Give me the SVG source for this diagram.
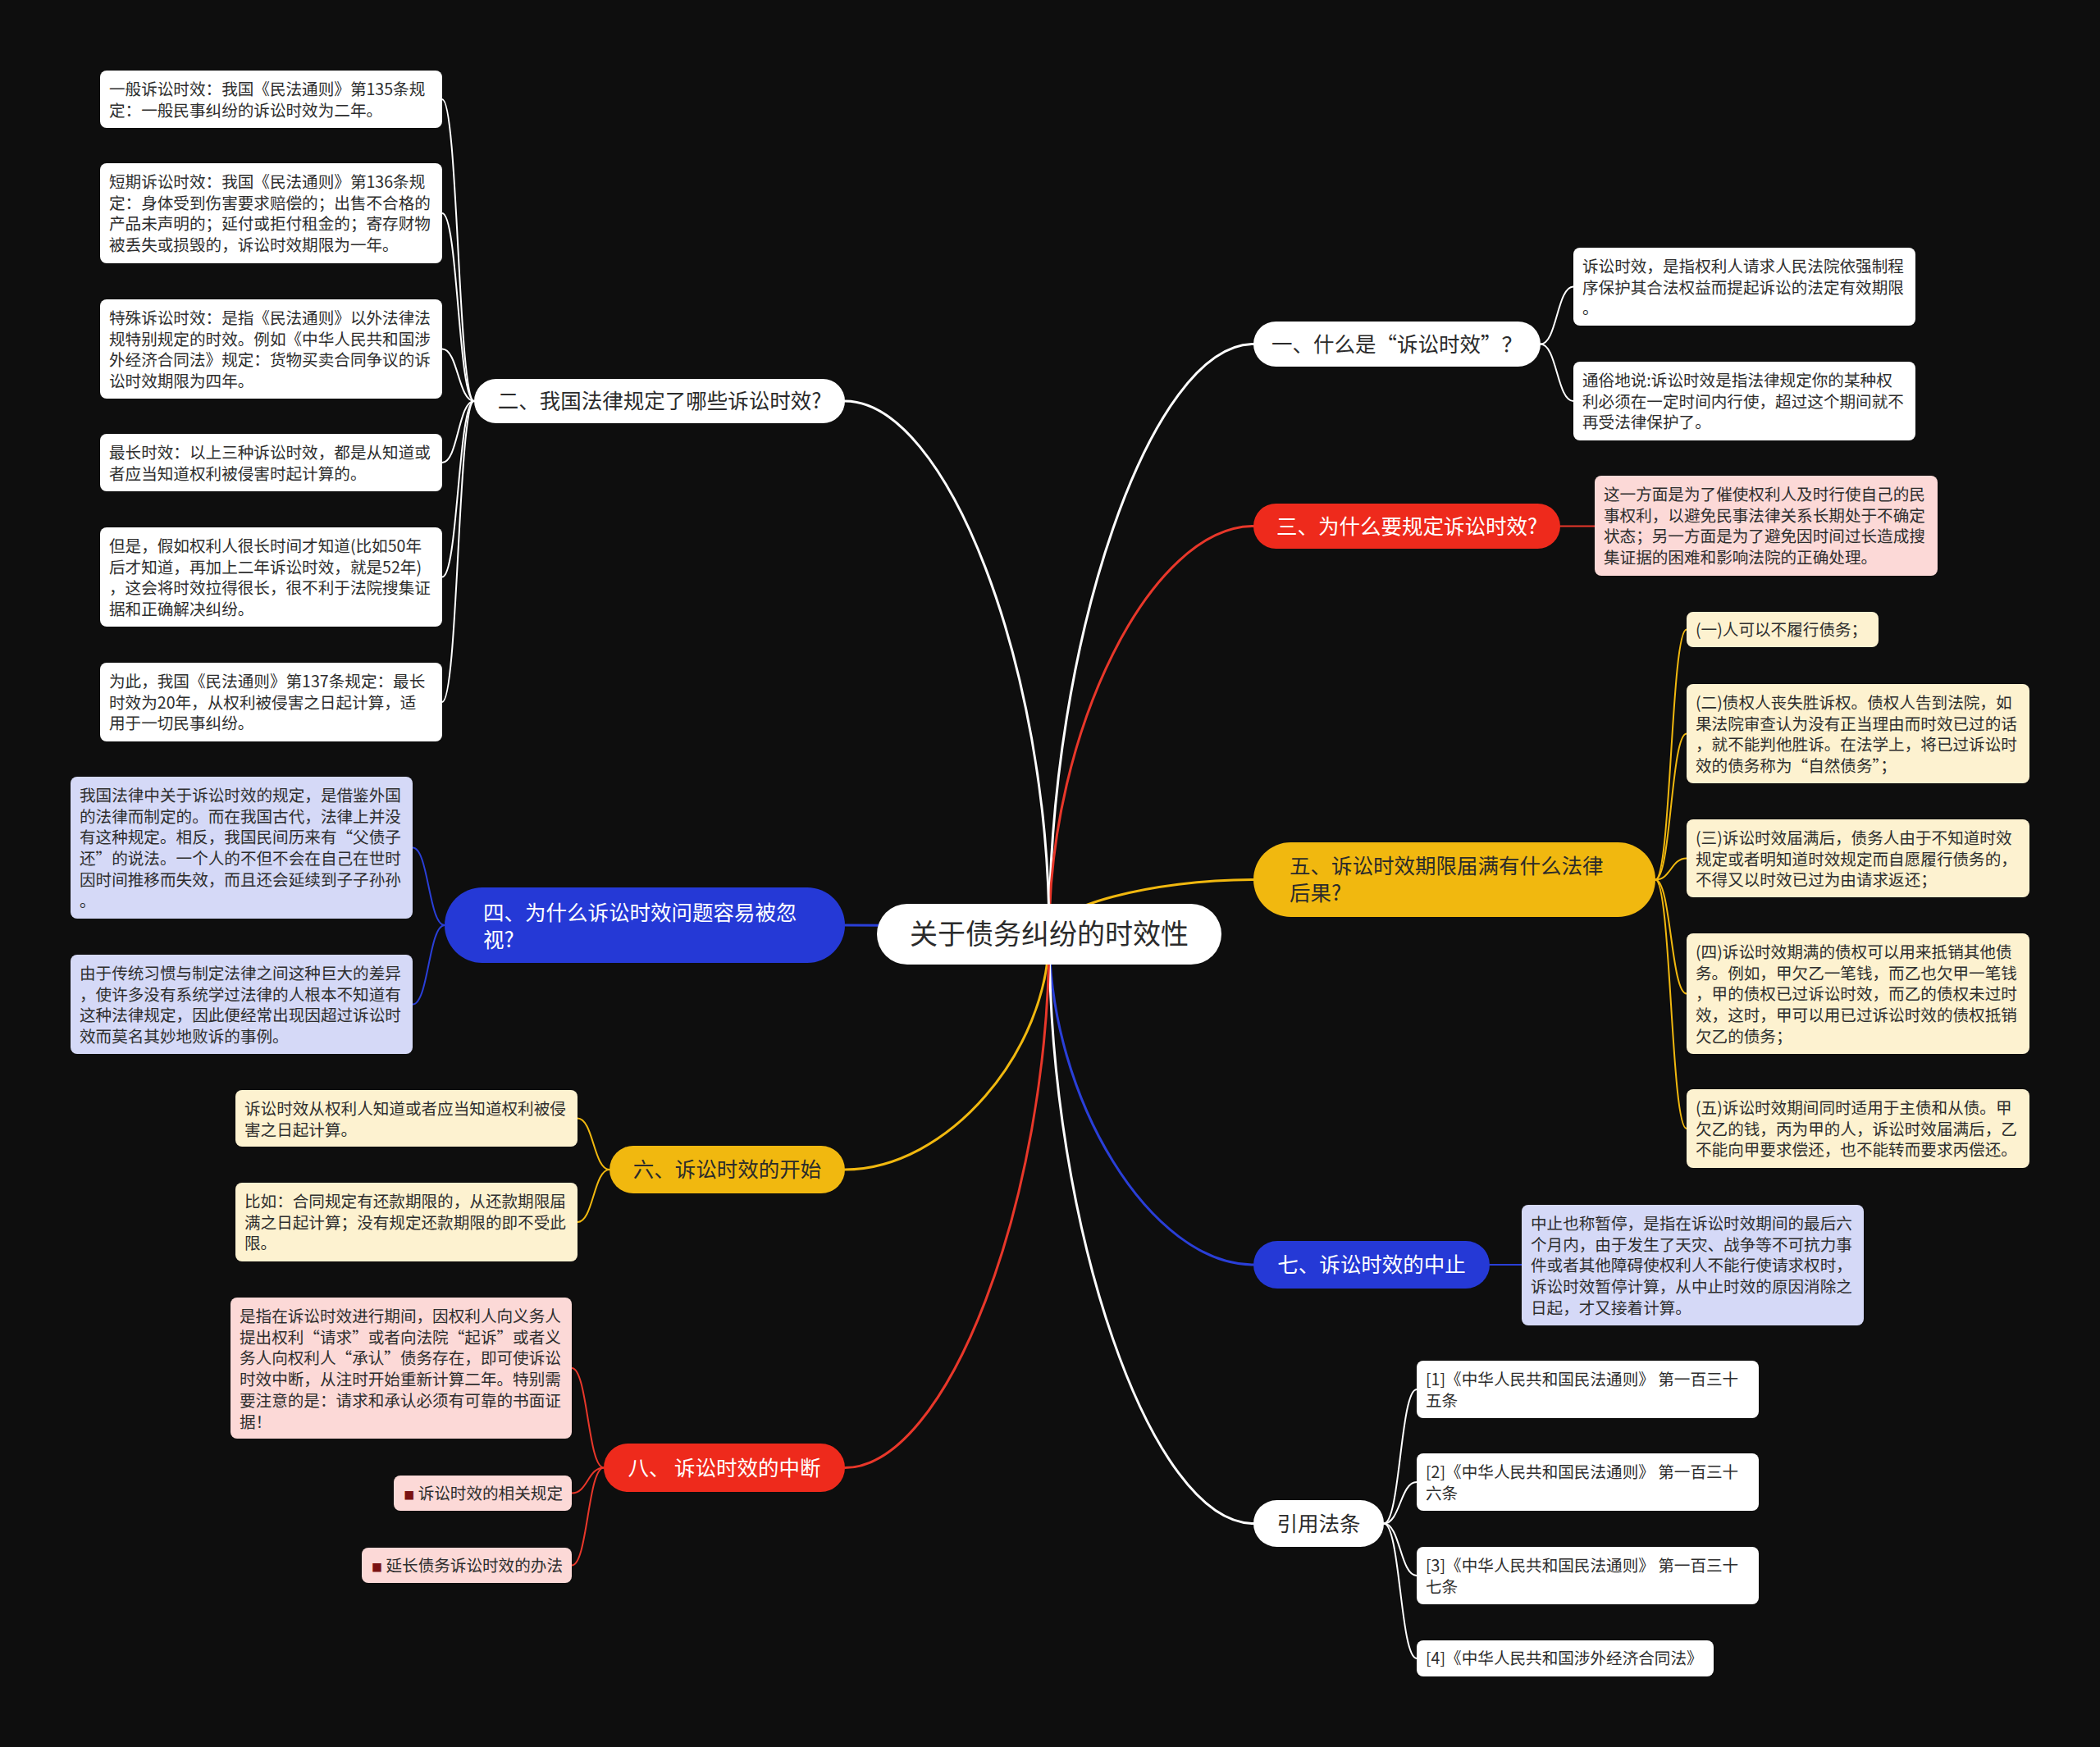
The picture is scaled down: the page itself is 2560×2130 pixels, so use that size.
<svg xmlns="http://www.w3.org/2000/svg" width="2560" height="2130" viewBox="0 0 2560 2130">
<defs>
<style>
text{font-family:"Noto Sans CJK SC","Noto Sans",sans-serif;}
.bg{fill:#0e0e0e;}
.c{fill:none;stroke-linecap:round;}
.main{stroke-width:3;}
.sub{stroke-width:2;}
.sw{stroke:#ffffff;}
.sr{stroke:#e8372a;}
.sy{stroke:#f1b80f;}
.sb{stroke:#2a3fd8;}
.fw{fill:#ffffff;}
.fr{fill:#ee2a1c;}
.fy{fill:#f1b80f;}
.fb{fill:#2539d6;}
.fc{fill:#fdf2d0;}
.fp{fill:#fcd9d7;}
.fl{fill:#d5d9f7;}
.bt{font-size:25.5px;}
.dark{fill:#2b2b2b;}
.light{fill:#ffffff;}
.lt{font-size:19.6px;fill:#2e2e2e;}
.rt{font-size:34px;fill:#2b2b2b;}
.mk{fill:#7a1212;}
</style>
</defs>
<rect class="bg" x="0" y="0" width="2560" height="2130"/>

<g id="connectors">
<path class="c main sw" d="M1279 1139 C1279 779.5 1403.5 419.5 1528 419.5"/>
<path class="c main sr" d="M1279 1139 C1279 890.5 1403.5 641.5 1528 641.5"/>
<path class="c main sy" d="M1279 1139 C1279 1105.5 1403.5 1072.5 1528 1072.5"/>
<path class="c main sb" d="M1279 1139 C1279 1340.5 1403.5 1542 1528 1542"/>
<path class="c main sw" d="M1279 1139 C1279 1498 1403.5 1857.5 1528 1857.5"/>
<path class="c main sw" d="M1279 1139 C1279 814 1154.5 489 1030 489"/>
<path class="c main sb" d="M1279 1139 C1279 1133.5 1154.5 1128 1030 1128"/>
<path class="c main sy" d="M1279 1139 C1279 1282.5 1154.5 1426 1030 1426"/>
<path class="c main sr" d="M1279 1139 C1279 1464 1154.5 1789.5 1030 1789.5"/>

<path class="c sub sw" d="M578 489 C558.5 489 558.5 121 539 121"/>
<path class="c sub sw" d="M578 489 C558.5 489 558.5 260 539 260"/>
<path class="c sub sw" d="M578 489 C558.5 489 558.5 425.5 539 425.5"/>
<path class="c sub sw" d="M578 489 C558.5 489 558.5 564 539 564"/>
<path class="c sub sw" d="M578 489 C558.5 489 558.5 703.5 539 703.5"/>
<path class="c sub sw" d="M578 489 C558.5 489 558.5 856 539 856"/>

<path class="c sub sw" d="M1878 419.5 C1898 419.5 1898 349.5 1918 349.5"/>
<path class="c sub sw" d="M1878 419.5 C1898 419.5 1898 489 1918 489"/>

<path class="c sub sr" d="M1902 641.5 L1944 641.5"/>

<path class="c sub sb" d="M542 1128 C522.5 1128 522.5 1033.5 503 1033.5"/>
<path class="c sub sb" d="M542 1128 C522.5 1128 522.5 1224.5 503 1224.5"/>

<path class="c sub sy" d="M2018 1072.5 C2037 1072.5 2037 767.5 2056 767.5"/>
<path class="c sub sy" d="M2018 1072.5 C2037 1072.5 2037 894.5 2056 894.5"/>
<path class="c sub sy" d="M2018 1072.5 C2037 1072.5 2037 1046.5 2056 1046.5"/>
<path class="c sub sy" d="M2018 1072.5 C2037 1072.5 2037 1211.5 2056 1211.5"/>
<path class="c sub sy" d="M2018 1072.5 C2037 1072.5 2037 1376 2056 1376"/>

<path class="c sub sy" d="M743 1426 C723.5 1426 723.5 1363.5 704 1363.5"/>
<path class="c sub sy" d="M743 1426 C723.5 1426 723.5 1490 704 1490"/>

<path class="c sub sb" d="M1816 1542 L1855 1542"/>

<path class="c sub sr" d="M736 1789.5 C716.5 1789.5 716.5 1668 697 1668"/>
<path class="c sub sr" d="M736 1789.5 C716.5 1789.5 716.5 1820.5 697 1820.5"/>
<path class="c sub sr" d="M736 1789.5 C716.5 1789.5 716.5 1908.5 697 1908.5"/>

<path class="c sub sw" d="M1687 1857.5 C1707 1857.5 1707 1694 1727 1694"/>
<path class="c sub sw" d="M1687 1857.5 C1707 1857.5 1707 1807 1727 1807"/>
<path class="c sub sw" d="M1687 1857.5 C1707 1857.5 1707 1921 1727 1921"/>
<path class="c sub sw" d="M1687 1857.5 C1707 1857.5 1707 2022 1727 2022"/>
</g>

<g id="root">
<rect class="fw" x="1069" y="1102" width="420" height="74" rx="37"/>
<text class="rt" x="1279" y="1151" text-anchor="middle">关于债务纠纷的时效性</text>
</g>

<g id="b1">
<rect class="fw" x="1528" y="392" width="350" height="55" rx="27.5"/>
<text class="bt dark" x="1703" y="428.5" text-anchor="middle">一、什么是“诉讼时效”？</text>
</g>
<g id="b1-1">
<rect class="fw" x="1918" y="302" width="417" height="95" rx="8"/>
<text class="lt" x="1929" y="332"><tspan x="1929">诉讼时效，是指权利人请求人民法院依强制程</tspan><tspan x="1929" dy="25.7">序保护其合法权益而提起诉讼的法定有效期限</tspan><tspan x="1929" dy="25.7">。</tspan></text>
</g>
<g id="b1-2">
<rect class="fw" x="1918" y="441" width="417" height="96" rx="8"/>
<text class="lt" x="1929" y="471"><tspan x="1929">通俗地说:诉讼时效是指法律规定你的某种权</tspan><tspan x="1929" dy="25.7">利必须在一定时间内行使，超过这个期间就不</tspan><tspan x="1929" dy="25.7">再受法律保护了。</tspan></text>
</g>

<g id="b2">
<rect class="fw" x="578" y="462" width="452" height="54" rx="27"/>
<text class="bt dark" x="804" y="498" text-anchor="middle">二、我国法律规定了哪些诉讼时效?</text>
</g>
<g id="b2-1">
<rect class="fw" x="122" y="86" width="417" height="70" rx="8"/>
<text class="lt" x="133" y="116"><tspan x="133">一般诉讼时效：我国《民法通则》第135条规</tspan><tspan x="133" dy="25.7">定：一般民事纠纷的诉讼时效为二年。</tspan></text>
</g>
<g id="b2-2">
<rect class="fw" x="122" y="199" width="417" height="122" rx="8"/>
<text class="lt" x="133" y="229"><tspan x="133">短期诉讼时效：我国《民法通则》第136条规</tspan><tspan x="133" dy="25.7">定：身体受到伤害要求赔偿的；出售不合格的</tspan><tspan x="133" dy="25.7">产品未声明的；延付或拒付租金的；寄存财物</tspan><tspan x="133" dy="25.7">被丢失或损毁的，诉讼时效期限为一年。</tspan></text>
</g>
<g id="b2-3">
<rect class="fw" x="122" y="365" width="417" height="121" rx="8"/>
<text class="lt" x="133" y="395"><tspan x="133">特殊诉讼时效：是指《民法通则》以外法律法</tspan><tspan x="133" dy="25.7">规特别规定的时效。例如《中华人民共和国涉</tspan><tspan x="133" dy="25.7">外经济合同法》规定：货物买卖合同争议的诉</tspan><tspan x="133" dy="25.7">讼时效期限为四年。</tspan></text>
</g>
<g id="b2-4">
<rect class="fw" x="122" y="529" width="417" height="70" rx="8"/>
<text class="lt" x="133" y="559"><tspan x="133">最长时效：以上三种诉讼时效，都是从知道或</tspan><tspan x="133" dy="25.7">者应当知道权利被侵害时起计算的。</tspan></text>
</g>
<g id="b2-5">
<rect class="fw" x="122" y="643" width="417" height="121" rx="8"/>
<text class="lt" x="133" y="673"><tspan x="133">但是，假如权利人很长时间才知道(比如50年</tspan><tspan x="133" dy="25.7">后才知道，再加上二年诉讼时效，就是52年)</tspan><tspan x="133" dy="25.7">，这会将时效拉得很长，很不利于法院搜集证</tspan><tspan x="133" dy="25.7">据和正确解决纠纷。</tspan></text>
</g>
<g id="b2-6">
<rect class="fw" x="122" y="808" width="417" height="96" rx="8"/>
<text class="lt" x="133" y="838"><tspan x="133">为此，我国《民法通则》第137条规定：最长</tspan><tspan x="133" dy="25.7">时效为20年，从权利被侵害之日起计算，适</tspan><tspan x="133" dy="25.7">用于一切民事纠纷。</tspan></text>
</g>

<g id="b3">
<rect class="fr" x="1528" y="614" width="374" height="55" rx="27.5"/>
<text class="bt light" x="1715" y="650.5" text-anchor="middle">三、为什么要规定诉讼时效?</text>
</g>
<g id="b3-1">
<rect class="fp" x="1944" y="580" width="418" height="122" rx="8"/>
<text class="lt" x="1955" y="610"><tspan x="1955">这一方面是为了催使权利人及时行使自己的民</tspan><tspan x="1955" dy="25.7">事权利，以避免民事法律关系长期处于不确定</tspan><tspan x="1955" dy="25.7">状态；另一方面是为了避免因时间过长造成搜</tspan><tspan x="1955" dy="25.7">集证据的困难和影响法院的正确处理。</tspan></text>
</g>

<g id="b4">
<rect class="fb" x="542" y="1082" width="488" height="92" rx="46"/>
<text class="bt light" x="589" y="1122"><tspan x="589">四、为什么诉讼时效问题容易被忽</tspan><tspan x="589" dy="33">视?</tspan></text>
</g>
<g id="b4-1">
<rect class="fl" x="86" y="947" width="417" height="173" rx="8"/>
<text class="lt" x="97" y="977"><tspan x="97">我国法律中关于诉讼时效的规定，是借鉴外国</tspan><tspan x="97" dy="25.7">的法律而制定的。而在我国古代，法律上并没</tspan><tspan x="97" dy="25.7">有这种规定。相反，我国民间历来有“父债子</tspan><tspan x="97" dy="25.7">还”的说法。一个人的不但不会在自己在世时</tspan><tspan x="97" dy="25.7">因时间推移而失效，而且还会延续到子子孙孙</tspan><tspan x="97" dy="25.7">。</tspan></text>
</g>
<g id="b4-2">
<rect class="fl" x="86" y="1164" width="417" height="121" rx="8"/>
<text class="lt" x="97" y="1194"><tspan x="97">由于传统习惯与制定法律之间这种巨大的差异</tspan><tspan x="97" dy="25.7">，使许多没有系统学过法律的人根本不知道有</tspan><tspan x="97" dy="25.7">这种法律规定，因此便经常出现因超过诉讼时</tspan><tspan x="97" dy="25.7">效而莫名其妙地败诉的事例。</tspan></text>
</g>

<g id="b5">
<rect class="fy" x="1528" y="1027" width="490" height="91" rx="45.5"/>
<text class="bt dark" x="1572" y="1065"><tspan x="1572">五、诉讼时效期限届满有什么法律</tspan><tspan x="1572" dy="33">后果?</tspan></text>
</g>
<g id="b5-1">
<rect class="fc" x="2056" y="746" width="234" height="43" rx="8"/>
<text class="lt" x="2067" y="775">(一)人可以不履行债务；</text>
</g>
<g id="b5-2">
<rect class="fc" x="2056" y="834" width="418" height="121" rx="8"/>
<text class="lt" x="2067" y="864"><tspan x="2067">(二)债权人丧失胜诉权。债权人告到法院，如</tspan><tspan x="2067" dy="25.7">果法院审查认为没有正当理由而时效已过的话</tspan><tspan x="2067" dy="25.7">，就不能判他胜诉。在法学上，将已过诉讼时</tspan><tspan x="2067" dy="25.7">效的债务称为“自然债务”；</tspan></text>
</g>
<g id="b5-3">
<rect class="fc" x="2056" y="999" width="418" height="95" rx="8"/>
<text class="lt" x="2067" y="1029"><tspan x="2067">(三)诉讼时效届满后，债务人由于不知道时效</tspan><tspan x="2067" dy="25.7">规定或者明知道时效规定而自愿履行债务的，</tspan><tspan x="2067" dy="25.7">不得又以时效已过为由请求返还；</tspan></text>
</g>
<g id="b5-4">
<rect class="fc" x="2056" y="1138" width="418" height="147" rx="8"/>
<text class="lt" x="2067" y="1168"><tspan x="2067">(四)诉讼时效期满的债权可以用来抵销其他债</tspan><tspan x="2067" dy="25.7">务。例如，甲欠乙一笔钱，而乙也欠甲一笔钱</tspan><tspan x="2067" dy="25.7">，甲的债权已过诉讼时效，而乙的债权未过时</tspan><tspan x="2067" dy="25.7">效，这时，甲可以用已过诉讼时效的债权抵销</tspan><tspan x="2067" dy="25.7">欠乙的债务；</tspan></text>
</g>
<g id="b5-5">
<rect class="fc" x="2056" y="1328" width="418" height="96" rx="8"/>
<text class="lt" x="2067" y="1358"><tspan x="2067">(五)诉讼时效期间同时适用于主债和从债。甲</tspan><tspan x="2067" dy="25.7">欠乙的钱，丙为甲的人，诉讼时效届满后，乙</tspan><tspan x="2067" dy="25.7">不能向甲要求偿还，也不能转而要求丙偿还。</tspan></text>
</g>

<g id="b6">
<rect class="fy" x="743" y="1397" width="287" height="58" rx="29"/>
<text class="bt dark" x="886.5" y="1435" text-anchor="middle">六、诉讼时效的开始</text>
</g>
<g id="b6-1">
<rect class="fc" x="287" y="1329" width="417" height="69" rx="8"/>
<text class="lt" x="298" y="1359"><tspan x="298">诉讼时效从权利人知道或者应当知道权利被侵</tspan><tspan x="298" dy="25.7">害之日起计算。</tspan></text>
</g>
<g id="b6-2">
<rect class="fc" x="287" y="1442" width="417" height="96" rx="8"/>
<text class="lt" x="298" y="1472"><tspan x="298">比如：合同规定有还款期限的，从还款期限届</tspan><tspan x="298" dy="25.7">满之日起计算；没有规定还款期限的即不受此</tspan><tspan x="298" dy="25.7">限。</tspan></text>
</g>

<g id="b7">
<rect class="fb" x="1528" y="1513" width="288" height="58" rx="29"/>
<text class="bt light" x="1672" y="1551" text-anchor="middle">七、诉讼时效的中止</text>
</g>
<g id="b7-1">
<rect class="fl" x="1855" y="1469" width="417" height="147" rx="8"/>
<text class="lt" x="1866" y="1499"><tspan x="1866">中止也称暂停，是指在诉讼时效期间的最后六</tspan><tspan x="1866" dy="25.7">个月内，由于发生了天灾、战争等不可抗力事</tspan><tspan x="1866" dy="25.7">件或者其他障碍使权利人不能行使请求权时，</tspan><tspan x="1866" dy="25.7">诉讼时效暂停计算，从中止时效的原因消除之</tspan><tspan x="1866" dy="25.7">日起，才又接着计算。</tspan></text>
</g>

<g id="b8">
<rect class="fr" x="736" y="1760" width="294" height="59" rx="29.5"/>
<text class="bt light" x="883" y="1798.5" text-anchor="middle">八、 诉讼时效的中断</text>
</g>
<g id="b8-1">
<rect class="fp" x="281" y="1582" width="416" height="172" rx="8"/>
<text class="lt" x="292" y="1612"><tspan x="292">是指在诉讼时效进行期间，因权利人向义务人</tspan><tspan x="292" dy="25.7">提出权利“请求”或者向法院“起诉”或者义</tspan><tspan x="292" dy="25.7">务人向权利人“承认”债务存在，即可使诉讼</tspan><tspan x="292" dy="25.7">时效中断，从注时开始重新计算二年。特别需</tspan><tspan x="292" dy="25.7">要注意的是：请求和承认必须有可靠的书面证</tspan><tspan x="292" dy="25.7">据！</tspan></text>
</g>
<g id="b8-2">
<rect class="fp" x="480" y="1799" width="217" height="43" rx="8"/>
<text class="lt" x="686" y="1828" text-anchor="end"><tspan class="mk" font-size="13px">■</tspan> 诉讼时效的相关规定</text>
</g>
<g id="b8-3">
<rect class="fp" x="441" y="1887" width="256" height="43" rx="8"/>
<text class="lt" x="686" y="1916" text-anchor="end"><tspan class="mk" font-size="13px">■</tspan> 延长债务诉讼时效的办法</text>
</g>

<g id="b9">
<rect class="fw" x="1528" y="1829" width="159" height="57" rx="28.5"/>
<text class="bt dark" x="1607.5" y="1866.5" text-anchor="middle">引用法条</text>
</g>
<g id="b9-1">
<rect class="fw" x="1727" y="1659" width="417" height="70" rx="8"/>
<text class="lt" x="1738" y="1689"><tspan x="1738">[1]《中华人民共和国民法通则》 第一百三十</tspan><tspan x="1738" dy="25.7">五条</tspan></text>
</g>
<g id="b9-2">
<rect class="fw" x="1727" y="1772" width="417" height="70" rx="8"/>
<text class="lt" x="1738" y="1802"><tspan x="1738">[2]《中华人民共和国民法通则》 第一百三十</tspan><tspan x="1738" dy="25.7">六条</tspan></text>
</g>
<g id="b9-3">
<rect class="fw" x="1727" y="1886" width="417" height="70" rx="8"/>
<text class="lt" x="1738" y="1916"><tspan x="1738">[3]《中华人民共和国民法通则》 第一百三十</tspan><tspan x="1738" dy="25.7">七条</tspan></text>
</g>
<g id="b9-4">
<rect class="fw" x="1727" y="2000" width="362" height="44" rx="8"/>
<text class="lt" x="1738" y="2029">[4]《中华人民共和国涉外经济合同法》</text>
</g>
</svg>
